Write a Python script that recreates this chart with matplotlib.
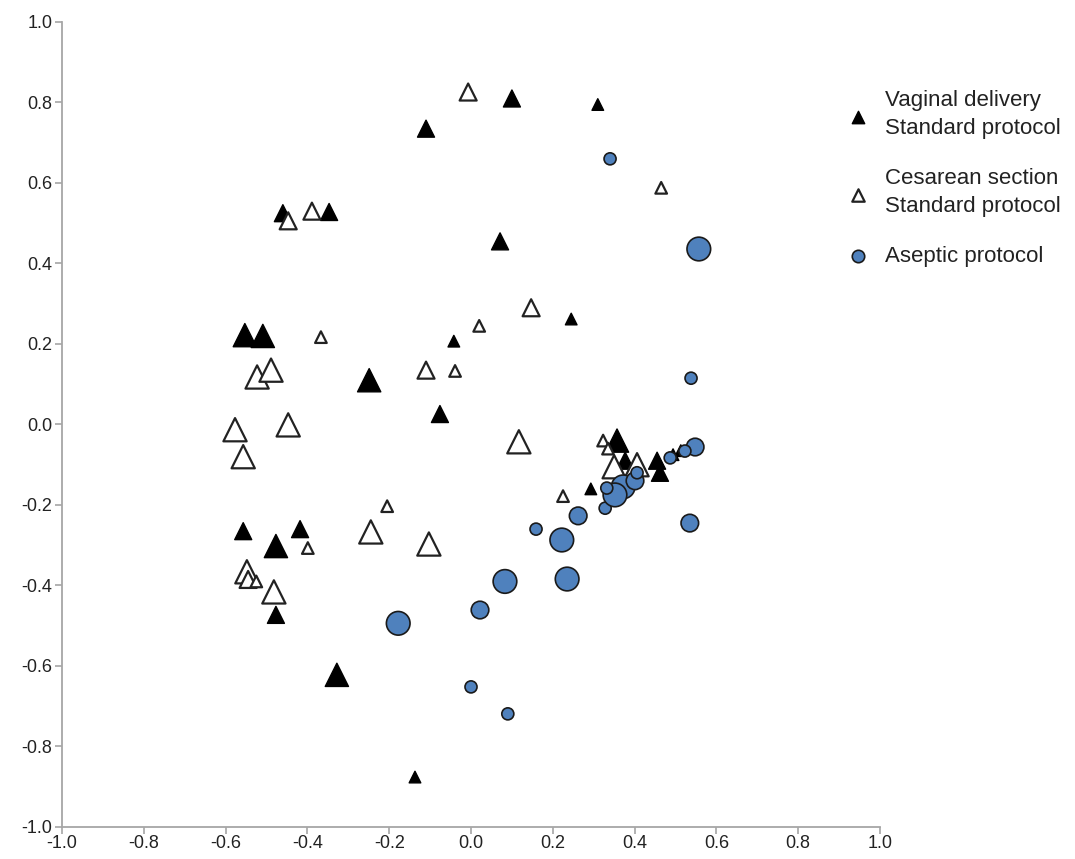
import numpy as np
import matplotlib.pyplot as plt

plt.rcParams['font.family'] = ['Liberation Sans', 'DejaVu Sans']

# Vaginal delivery, standard protocol (filled triangles); size class 1-3
vag_x = [0.10, 0.31, -0.11, -0.46, -0.347, 0.071, 0.245, -0.042, -0.553, -0.509,
         -0.249, -0.076, 0.357, 0.377, 0.455, 0.462, 0.293, 0.494, 0.513,
         -0.557, -0.477, -0.418, -0.477, -0.328, -0.137]
vag_y = [0.81, 0.795, 0.735, 0.525, 0.528, 0.455, 0.262, 0.207, 0.222, 0.22,
         0.11, 0.026, -0.04, -0.09, -0.09, -0.12, -0.16, -0.075, -0.065,
         -0.265, -0.302, -0.26, -0.473, -0.622, -0.876]
vag_w = [2, 1, 2, 2, 2, 2, 1, 1, 3, 3,
         3, 2, 3, 2, 2, 2, 1, 1, 1,
         2, 3, 2, 2, 3, 1]

# Cesarean section, standard protocol (open triangles)
ces_x = [-0.007, 0.465, -0.447, -0.389, -0.367, 0.147, 0.02, -0.11, -0.039, 0.117,
         -0.523, -0.489, -0.577, -0.447, -0.557, -0.205, -0.245, -0.103, -0.399,
         -0.548, -0.545, -0.525, -0.482, 0.323, 0.335, 0.35, 0.406, 0.225]
ces_y = [0.826, 0.588, 0.506, 0.53, 0.217, 0.29, 0.245, 0.135, 0.133, -0.043,
         0.118, 0.135, -0.013, -0.001, -0.08, -0.203, -0.267, -0.297, -0.307,
         -0.366, -0.385, -0.39, -0.416, -0.04, -0.06, -0.105, -0.10, -0.178]
ces_w = [2, 1, 2, 2, 1, 2, 1, 2, 1, 3,
         3, 3, 3, 3, 3, 1, 3, 3, 1,
         3, 2, 1, 3, 1, 1, 3, 3, 1]

# Aseptic protocol (blue circles)
ase_x = [0.340, 0.557, 0.538, -0.178, 0.022, 0.083, 0.235, 0.222, 0.159, 0.262,
         0.0, 0.090, 0.328, 0.372, 0.352, 0.401, 0.406, 0.332, 0.535, 0.548,
         0.523, 0.487]
ase_y = [0.66, 0.436, 0.115, -0.494, -0.461, -0.39, -0.384, -0.287, -0.26, -0.227,
         -0.652, -0.719, -0.208, -0.155, -0.175, -0.14, -0.12, -0.158, -0.245, -0.056,
         -0.066, -0.083]
ase_w = [1, 3, 1, 3, 2, 3, 3, 3, 1, 2,
         1, 1, 1, 3, 3, 2, 1, 1, 2, 2,
         1, 1]

tri_area = {1: 70, 2: 150, 3: 280}
circ_area = {1: 75, 2: 160, 3: 290}

fig = plt.figure(figsize=(10.75, 8.59), dpi=100)
ax = fig.add_axes([0.0577, 0.0373, 0.7609, 0.9371])

ax.scatter(vag_x, vag_y, s=[tri_area[w] for w in vag_w], marker='^',
           c='black', edgecolors='black', linewidths=1, zorder=3,
           label='Vaginal delivery\nStandard protocol')
ax.scatter(ces_x, ces_y, s=[tri_area[w] for w in ces_w], marker='^',
           c='white', edgecolors='#222222', linewidths=1.6, zorder=3,
           label='Cesarean section\nStandard protocol')
ax.scatter(ase_x, ase_y, s=[circ_area[w] for w in ase_w], marker='o',
           c='#4f81bd', edgecolors='#1a1a1a', linewidths=1.2, zorder=4,
           label='Aseptic protocol')

ax.set_xlim(-1, 1)
ax.set_ylim(-1, 1)
ticks = np.round(np.arange(-1.0, 1.01, 0.2), 1) + 0.0
ax.set_xticks(ticks)
ax.set_yticks(ticks)
labels = [f'{abs(t):.1f}' if abs(t) < 1e-9 else f'{t:.1f}' for t in ticks]
ax.set_xticklabels(labels)
ax.set_yticklabels(labels)

for s in ['top', 'right']:
    ax.spines[s].set_visible(False)
for s in ['left', 'bottom']:
    ax.spines[s].set_color('#a6a6a6')
    ax.spines[s].set_linewidth(1.3)
ax.tick_params(direction='out', length=5, width=1.2, color='#a6a6a6',
               labelsize=13, labelcolor='#222222', pad=2)
ax.tick_params(axis='x', pad=0.5)

leg = ax.legend(loc='upper left', bbox_to_anchor=(836 / 1075, 1 - 79 / 859),
                bbox_transform=fig.transFigure, frameon=False, borderpad=0,
                fontsize=16, labelspacing=1.3, handletextpad=0.7,
                scatterpoints=1, handlelength=1.0)
for h in leg.legend_handles:
    h.set_sizes([80])
for t in leg.get_texts():
    t.set_color('#222222')
    t.set_linespacing(1.45)

fig.savefig('out.png', dpi=100)
